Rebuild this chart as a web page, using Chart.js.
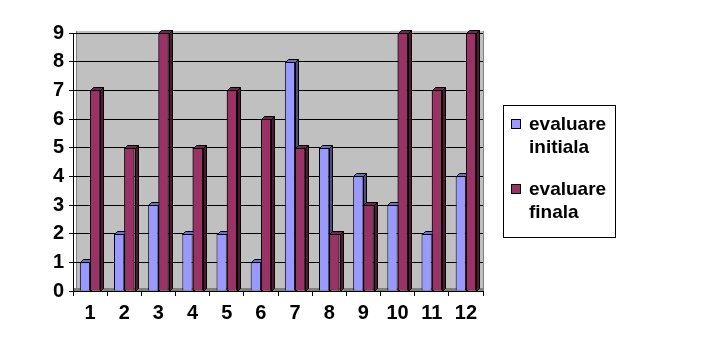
<!DOCTYPE html>
<html>
<head>
<meta charset="utf-8">
<title>evaluare</title>
<script src="https://cdn.jsdelivr.net/npm/chart.js@4/dist/chart.umd.min.js"></script>
<style>
  html, body { margin: 0; padding: 0; background: #ffffff; }
  #wrap { width: 715px; height: 348px; }
</style>
</head>
<body>
<div id="wrap"><canvas id="evalChart" width="715" height="348"></canvas></div>
<script>
const categories = ['1', '2', '3', '4', '5', '6', '7', '8', '9', '10', '11', '12'];
const initiala = [1, 2, 3, 2, 2, 1, 8, 5, 4, 3, 2, 4];
const finala = [7, 5, 9, 5, 7, 6, 5, 2, 3, 9, 7, 9];
const seriesNames = [['evaluare', 'initiala'], ['evaluare', 'finala']];

const front = ['#9999FF', '#993366'];
const topFace = ['#7070C0', '#73264D'];
const sideFace = ['#4D4D80', '#4D1A33'];
const depth = 3;

// gray back wall and floor behind the bars
const wallPlugin = {
    id: 'wall',
    beforeDraw(chart) {
        const { ctx, chartArea: a } = chart;
        ctx.save();
        ctx.fillStyle = '#C0C0C0';
        ctx.fillRect(a.left + depth, a.top - 2, a.right - a.left - depth, a.bottom - a.top + 2);
        ctx.fillStyle = '#808080';
        ctx.fillRect(a.left + 1, a.bottom - depth, a.right - a.left - 1, depth);
        ctx.strokeStyle = '#808080';
        ctx.lineWidth = 1;
        ctx.beginPath();
        ctx.moveTo(a.right + 0.5, a.top - 2);
        ctx.lineTo(a.right + 0.5, a.bottom);
        ctx.moveTo(a.left + depth + 0.5, a.top - 2);
        ctx.lineTo(a.left + depth + 0.5, a.bottom - depth);
        ctx.stroke();
        ctx.restore();
    }
};

function drawFaces(ctx, bar, di) {
    const p = bar.getProps(['x', 'y', 'base', 'width'], true);
    const l = Math.round(p.x - p.width / 2) + 0.5;
    const r = Math.round(p.x + p.width / 2) + 0.5;
    const t = Math.round(p.y) + 0.5;
    const b = Math.round(p.base) + 0.5;
    ctx.strokeStyle = '#000000';
    ctx.lineWidth = 1;
    // top
    ctx.beginPath();
    ctx.moveTo(l, t);
    ctx.lineTo(l + depth, t - depth);
    ctx.lineTo(r + depth, t - depth);
    ctx.lineTo(r, t);
    ctx.closePath();
    ctx.fillStyle = topFace[di];
    ctx.fill();
    ctx.stroke();
    // right side
    ctx.beginPath();
    ctx.moveTo(r, t);
    ctx.lineTo(r + depth, t - depth);
    ctx.lineTo(r + depth, b - depth);
    ctx.lineTo(r, b);
    ctx.closePath();
    ctx.fillStyle = sideFace[di];
    ctx.fill();
    ctx.stroke();
}

// adds depth to each bar; the second series is redrawn so it hides the first one's side
const depthPlugin = {
    id: 'depth',
    afterDatasetsDraw(chart) {
        const ctx = chart.ctx;
        ctx.save();
        chart.getDatasetMeta(0).data.forEach(bar => drawFaces(ctx, bar, 0));
        chart.getDatasetMeta(1).data.forEach(bar => {
            bar.draw(ctx);
            drawFaces(ctx, bar, 1);
        });
        ctx.restore();
    }
};

// boxed legend with two-line names
const boxLegend = {
    id: 'boxLegend',
    afterDraw(chart) {
        const ctx = chart.ctx;
        ctx.save();
        ctx.strokeStyle = '#000000';
        ctx.lineWidth = 1;
        ctx.strokeRect(503.5, 105.5, 112, 132);
        ctx.font = 'bold 19px "Liberation Sans", Arial, sans-serif';
        ctx.textBaseline = 'middle';
        const rows = [125, 190];
        seriesNames.forEach((lines, i) => {
            ctx.fillStyle = front[i];
            ctx.fillRect(511.5, rows[i] - 5.5, 9, 9);
            ctx.strokeStyle = '#000000';
            ctx.strokeRect(511.5, rows[i] - 5.5, 9, 9);
            ctx.fillStyle = '#000000';
            lines.forEach((txt, j) => ctx.fillText(txt, 529, rows[i] + j * 23));
        });
        ctx.restore();
    }
};

const tickFont = { family: '"Liberation Sans", Arial, sans-serif', size: 20, weight: 'bold' };

const ctx = document.getElementById('evalChart').getContext('2d');
const evalChart = new Chart(ctx, {
    type: 'bar',
    data: {
        labels: categories,
        datasets: [
            {
                label: seriesNames[0].join(' '),
                data: initiala,
                backgroundColor: front[0],
                borderColor: '#000000',
                borderWidth: 1,
                categoryPercentage: 0.6,
                barPercentage: 1
            },
            {
                label: seriesNames[1].join(' '),
                data: finala,
                backgroundColor: front[1],
                borderColor: '#000000',
                borderWidth: 1,
                categoryPercentage: 0.6,
                barPercentage: 1
            }
        ]
    },
    options: {
        responsive: false,
        animation: false,
        events: [],
        layout: { padding: { left: 0, top: 33, right: 232, bottom: 22 } },
        plugins: {
            legend: { display: false },
            tooltip: { enabled: false }
        },
        scales: {
            x: {
                afterFit(scale) { scale.height = 35; },
                grid: {
                    offset: true,
                    drawOnChartArea: false,
                    drawTicks: true,
                    tickLength: 5,
                    color: '#000000'
                },
                border: { color: '#000000', width: 1 },
                ticks: { color: '#000000', font: tickFont, padding: 5 }
            },
            y: {
                min: 0,
                max: 9,
                afterFit(scale) { scale.width = 73; },
                grid: {
                    color: '#000000',
                    tickLength: 4,
                    lineWidth: 1
                },
                border: { color: '#000000', width: 1 },
                ticks: { stepSize: 1, color: '#000000', font: tickFont, padding: 5 }
            }
        }
    },
    plugins: [wallPlugin, depthPlugin, boxLegend]
});
</script>
</body>
</html>
